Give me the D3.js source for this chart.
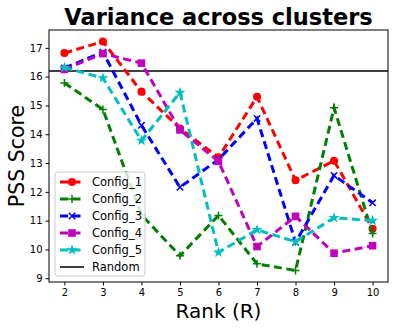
<!DOCTYPE html>
<html lang="en">
<head>
  <meta charset="UTF-8" />
  <title>Variance across clusters</title>
  <script src="https://d3js.org/d3.v7.min.js"></script>
  <style>
    body { margin: 0; background: white; }
    svg { display: block; font-family: "DejaVu Sans", sans-serif; }
  </style>
</head>
<body>
  <svg id="chart" width="399" height="329"></svg>
  <script>
    const ranks = [2, 3, 4, 5, 6, 7, 8, 9, 10];
    const config1 = [16.82, 17.22, 15.48, 14.2, 13.2, 15.3, 12.4, 13.08, 10.72];
    const config2 = [15.78, 14.86, 11.2, 9.78, 11.18, 9.5, 9.27, 14.92, 10.55];
    const config3 = [16.3, 16.85, 14.31, 12.16, 13.12, 14.55, 10.25, 12.57, 11.62];
    const config4 = [16.25, 16.8, 16.47, 14.15, 13.06, 10.1, 11.15, 9.87, 10.13];
    const config5 = [16.32, 15.95, 13.78, 15.45, 9.9, 10.68, 10.27, 11.1, 11.0];
    const randomScore = 16.2;
    const yTicks = [9, 10, 11, 12, 13, 14, 15, 16, 17];

    const series = [
      { name: 'Config_1', values: config1, color: '#ff0000', marker: 'circle' },
      { name: 'Config_2', values: config2, color: '#008000', marker: 'plus' },
      { name: 'Config_3', values: config3, color: '#0000ff', marker: 'x' },
      { name: 'Config_4', values: config4, color: '#bf00bf', marker: 'square' },
      { name: 'Config_5', values: config5, color: '#00bfbf', marker: 'star' }
    ];

    const svg = d3.select('#chart');
    const margin = { top: 30, right: 11, bottom: 47, left: 49 };
    const width = 399 - margin.left - margin.right;
    const height = 329 - margin.top - margin.bottom;

    const x = d3.scaleLinear().domain([1.6, 10.4]).range([0, width]);
    const y = d3.scaleLinear().domain([8.87, 17.62]).range([height, 0]);

    const g = svg.append('g').attr('transform', `translate(${margin.left},${margin.top})`);

    svg.append('defs').append('clipPath').attr('id', 'clip')
      .append('rect').attr('width', width).attr('height', height);

    // axes
    const xAxis = g.append('g')
      .attr('transform', `translate(0,${height})`)
      .call(d3.axisBottom(x).tickValues(ranks).tickSize(3.5).tickPadding(3));
    const yAxis = g.append('g')
      .call(d3.axisLeft(y).tickValues(yTicks).tickSize(3.5).tickPadding(3));
    [xAxis, yAxis].forEach(a => {
      a.selectAll('text').attr('font-size', 10).attr('fill', '#000')
        .attr('font-family', '"DejaVu Sans", sans-serif');
      a.select('.domain').remove();
      a.selectAll('line').attr('stroke', '#000');
    });

    g.append('rect')
      .attr('width', width).attr('height', height)
      .attr('fill', 'none').attr('stroke', '#000').attr('stroke-width', 1);

    const plot = g.append('g').attr('clip-path', 'url(#clip)');

    // random baseline
    plot.append('line')
      .attr('x1', 0).attr('x2', width)
      .attr('y1', y(randomScore)).attr('y2', y(randomScore))
      .attr('stroke', '#000').attr('stroke-width', 1.5);

    const line = d3.line()
      .x((d, i) => x(ranks[i]))
      .y(d => y(d));

    function markerPath(type, size) {
      const s = size;
      if (type === 'circle') return d3.symbol(d3.symbolCircle, s * s * 0.8)();
      if (type === 'square') return d3.symbol(d3.symbolSquare, s * s * 0.9)();
      if (type === 'star') return d3.symbol(d3.symbolStar, s * s * 0.6)();
      if (type === 'plus') return `M${-s / 2},0H${s / 2}M0,${-s / 2}V${s / 2}`;
      if (type === 'x') return `M${-s / 2.5},${-s / 2.5}L${s / 2.5},${s / 2.5}M${-s / 2.5},${s / 2.5}L${s / 2.5},${-s / 2.5}`;
    }

    series.forEach(s => {
      plot.append('path')
        .datum(s.values)
        .attr('d', line)
        .attr('fill', 'none')
        .attr('stroke', s.color)
        .attr('stroke-width', 3)
        .attr('stroke-dasharray', '8,4.5');

      const filled = s.marker === 'circle' || s.marker === 'square' || s.marker === 'star';
      plot.selectAll(null)
        .data(s.values)
        .join('path')
        .attr('transform', (d, i) => `translate(${x(ranks[i])},${y(d)})`)
        .attr('d', markerPath(s.marker, 8))
        .attr('fill', filled ? s.color : 'none')
        .attr('stroke', s.color)
        .attr('stroke-width', filled ? 0 : 1.5);
    });

    // legend
    const legend = g.append('g').attr('transform', 'translate(6,142)');
    legend.append('rect')
      .attr('width', 90).attr('height', 104).attr('rx', 3)
      .attr('fill', 'white').attr('fill-opacity', 0.8)
      .attr('stroke', '#ccc').attr('stroke-width', 1);

    const legendItems = series.map(s => s).concat([{ name: 'Random', color: '#000', marker: null }]);
    legendItems.forEach((s, i) => {
      const row = legend.append('g').attr('transform', `translate(5,${10 + i * 17})`);
      if (s.marker) {
        row.append('line')
          .attr('x1', 0).attr('x2', 24)
          .attr('stroke', s.color).attr('stroke-width', 3)
          .attr('stroke-dasharray', '8,4.5');
        const filled = s.marker === 'circle' || s.marker === 'square' || s.marker === 'star';
        row.append('path')
          .attr('transform', 'translate(12,0)')
          .attr('d', markerPath(s.marker, 8))
          .attr('fill', filled ? s.color : 'none')
          .attr('stroke', s.color)
          .attr('stroke-width', filled ? 0 : 1.5);
      } else {
        row.append('line')
          .attr('x1', 0).attr('x2', 24)
          .attr('stroke', '#000').attr('stroke-width', 1.5);
      }
      row.append('text')
        .attr('x', 32).attr('dy', '0.35em')
        .attr('font-size', 11.5)
        .text(s.name);
    });

    // title and labels
    svg.append('text')
      .attr('x', margin.left + width / 2).attr('y', 25)
      .attr('text-anchor', 'middle')
      .attr('font-size', 22.5).attr('font-weight', 'bold')
      .text('Variance across clusters');

    svg.append('text')
      .attr('x', margin.left + width / 2).attr('y', 318)
      .attr('text-anchor', 'middle')
      .attr('font-size', 20)
      .text('Rank (R)');

    svg.append('text')
      .attr('transform', `translate(24,${margin.top + height / 2}) rotate(-90)`)
      .attr('text-anchor', 'middle')
      .attr('font-size', 20.5)
      .text('PSS Score');
  </script>
</body>
</html>
